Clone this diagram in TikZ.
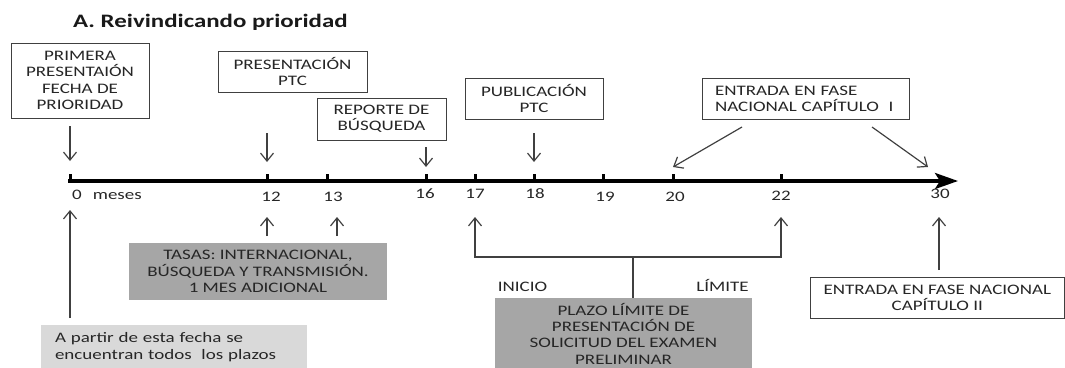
\documentclass[tikz,border=0pt]{standalone}
\usepackage{fontspec}
\setmainfont{Carlito}[FakeStretch=1.31]
\usetikzlibrary{arrows.meta}
\definecolor{txt}{HTML}{262626}
\definecolor{darkbox}{HTML}{A6A6A6}
\definecolor{lightbox}{HTML}{D9D9D9}
\definecolor{ln}{HTML}{404040}
\begin{document}
\begin{tikzpicture}[x=1pt,y=-1pt,
  every node/.style={font=\fontsize{14.5}{16.3}\selectfont, text=txt, inner sep=0pt},
  wbox/.style={draw=ln, line width=1pt, fill=white, align=center},
  gbox/.style={fill=darkbox, align=center},
  lbox/.style={fill=lightbox, align=left},
  num/.style={anchor=base},
  thinarrow/.style={draw=ln, line width=1.2pt, -{Straight Barb[length=8pt,width=13pt]}},
  thinline/.style={draw=ln, line width=1.2pt},
  tick/.style={line width=3pt, draw=black}
]
\useasboundingbox (0,0) rectangle (1065,367);

% title
\node[font=\fontsize{19}{22}\selectfont\bfseries, text=black!90, anchor=base west] (title) at (73,27) {A. Reivindicando prioridad};

% top boxes
\node[wbox, minimum width=138pt, minimum height=75pt] (prim) at (80,80.5) {PRIMERA\\PRESENTAIÓN\\FECHA DE\\PRIORIDAD};
\node[wbox, minimum width=149pt, minimum height=41pt] (ptc) at (292.5,71.5) {PRESENTACIÓN\\PTC};
\node[wbox, minimum width=129pt, minimum height=42pt] (rep) at (381.5,119) {REPORTE DE\\BÚSQUEDA};
\node[wbox, minimum width=138pt, minimum height=41pt] (pub) at (534,98.5) {PUBLICACIÓN\\PTC};
\node[wbox, align=left, text width=181pt, inner xsep=13pt, minimum height=41pt] (fase1) at (805.5,98.5) {ENTRADA EN FASE\\NACIONAL CAPÍTULO\ \ I};

% axis
\coordinate (t0) at (68,181);
\coordinate (tend) at (958,181);
\draw[line width=3.5pt, -{Stealth[length=23pt,width=16pt,inset=5pt]}] (t0) -- (tend);
\foreach \x in {70,267,327,426,475,534,603,673,781}{
  \draw[tick] (\x,181) -- (\x,174);
}

% axis labels
\node[anchor=base west] (l0) at (72,199.5) {0\hspace{11pt}meses};
\node[num] (l12) at (271,201) {12};
\node[num] (l13) at (333,201) {13};
\node[num] (l16) at (425,198) {16};
\node[num] (l17) at (475,198) {17};
\node[num] (l18) at (535,198) {18};
\node[num] (l19) at (605,201) {19};
\node[num] (l20) at (675,201) {20};
\node[num] (l22) at (781,200) {22};
\node[num] (l30) at (940,198) {30};

% top arrows
\coordinate (a0s) at (70,126);  \coordinate (a0e) at (70,161);
\coordinate (a12s) at (267,133); \coordinate (a12e) at (267,162);
\coordinate (a16s) at (426,147); \coordinate (a16e) at (426,167);
\coordinate (a18s) at (534,133); \coordinate (a18e) at (534,162);
\coordinate (f1s) at (742,127); \coordinate (f1e) at (673,167);
\coordinate (f2s) at (872,127); \coordinate (f2e) at (928,167);
\draw[thinarrow] (a0s) -- (a0e);
\draw[thinarrow] (a12s) -- (a12e);
\draw[thinarrow] (a16s) -- (a16e);
\draw[thinarrow] (a18s) -- (a18e);
\draw[thinarrow] (f1s) -- (f1e);
\draw[thinarrow] (f2s) -- (f2e);

% bottom boxes
\node[gbox, minimum width=258pt, minimum height=57pt] (tasas) at (258,271.5) {TASAS: INTERNACIONAL,\\BÚSQUEDA Y TRANSMISIÓN.\\1 MES ADICIONAL};
\node[lbox, text width=238pt, inner xsep=14pt, minimum height=44pt] (apartir) at (174,347) {A partir de esta fecha se\\encuentran todos\ \ los plazos};
\node[gbox, minimum width=257pt, minimum height=71pt] (plazo) at (623.5,333.5) {PLAZO LÍMITE DE\\PRESENTACIÓN DE\\SOLICITUD DEL EXAMEN\\PRELIMINAR};
\node[wbox, minimum width=254.5pt, minimum height=41pt] (fase2) at (937.25,297.5) {ENTRADA EN FASE NACIONAL\\CAPÍTULO II};

\node[anchor=base] (inicio) at (522.5,291) {INICIO};
\node[anchor=base] (limite) at (722.5,291) {LÍMITE};

% bottom arrows
\coordinate (b0s) at (70,318);  \coordinate (b0e) at (70,210);
\coordinate (b12s) at (267,236); \coordinate (b12e) at (267,217);
\coordinate (b13s) at (337,236); \coordinate (b13e) at (337,217);
\coordinate (b30s) at (939,270); \coordinate (b30e) at (939,217);
\draw[thinarrow] (b0s) -- (b0e);
\draw[thinarrow] (b12s) -- (b12e);
\draw[thinarrow] (b13s) -- (b13e);
\draw[thinarrow] (b30s) -- (b30e);

% bracket
\coordinate (k17) at (475,217);
\coordinate (kl) at (475,257);
\coordinate (kr) at (781,257);
\coordinate (k22) at (781,217);
\coordinate (stem) at (633,257);
\draw[thinline, {Straight Barb[length=8pt,width=13pt]}-{Straight Barb[length=8pt,width=13pt]}] (k17) -- (kl) -- (kr) -- (k22);
\draw[thinline] (stem) -- (stem |- plazo.north);
\end{tikzpicture}
\end{document}
